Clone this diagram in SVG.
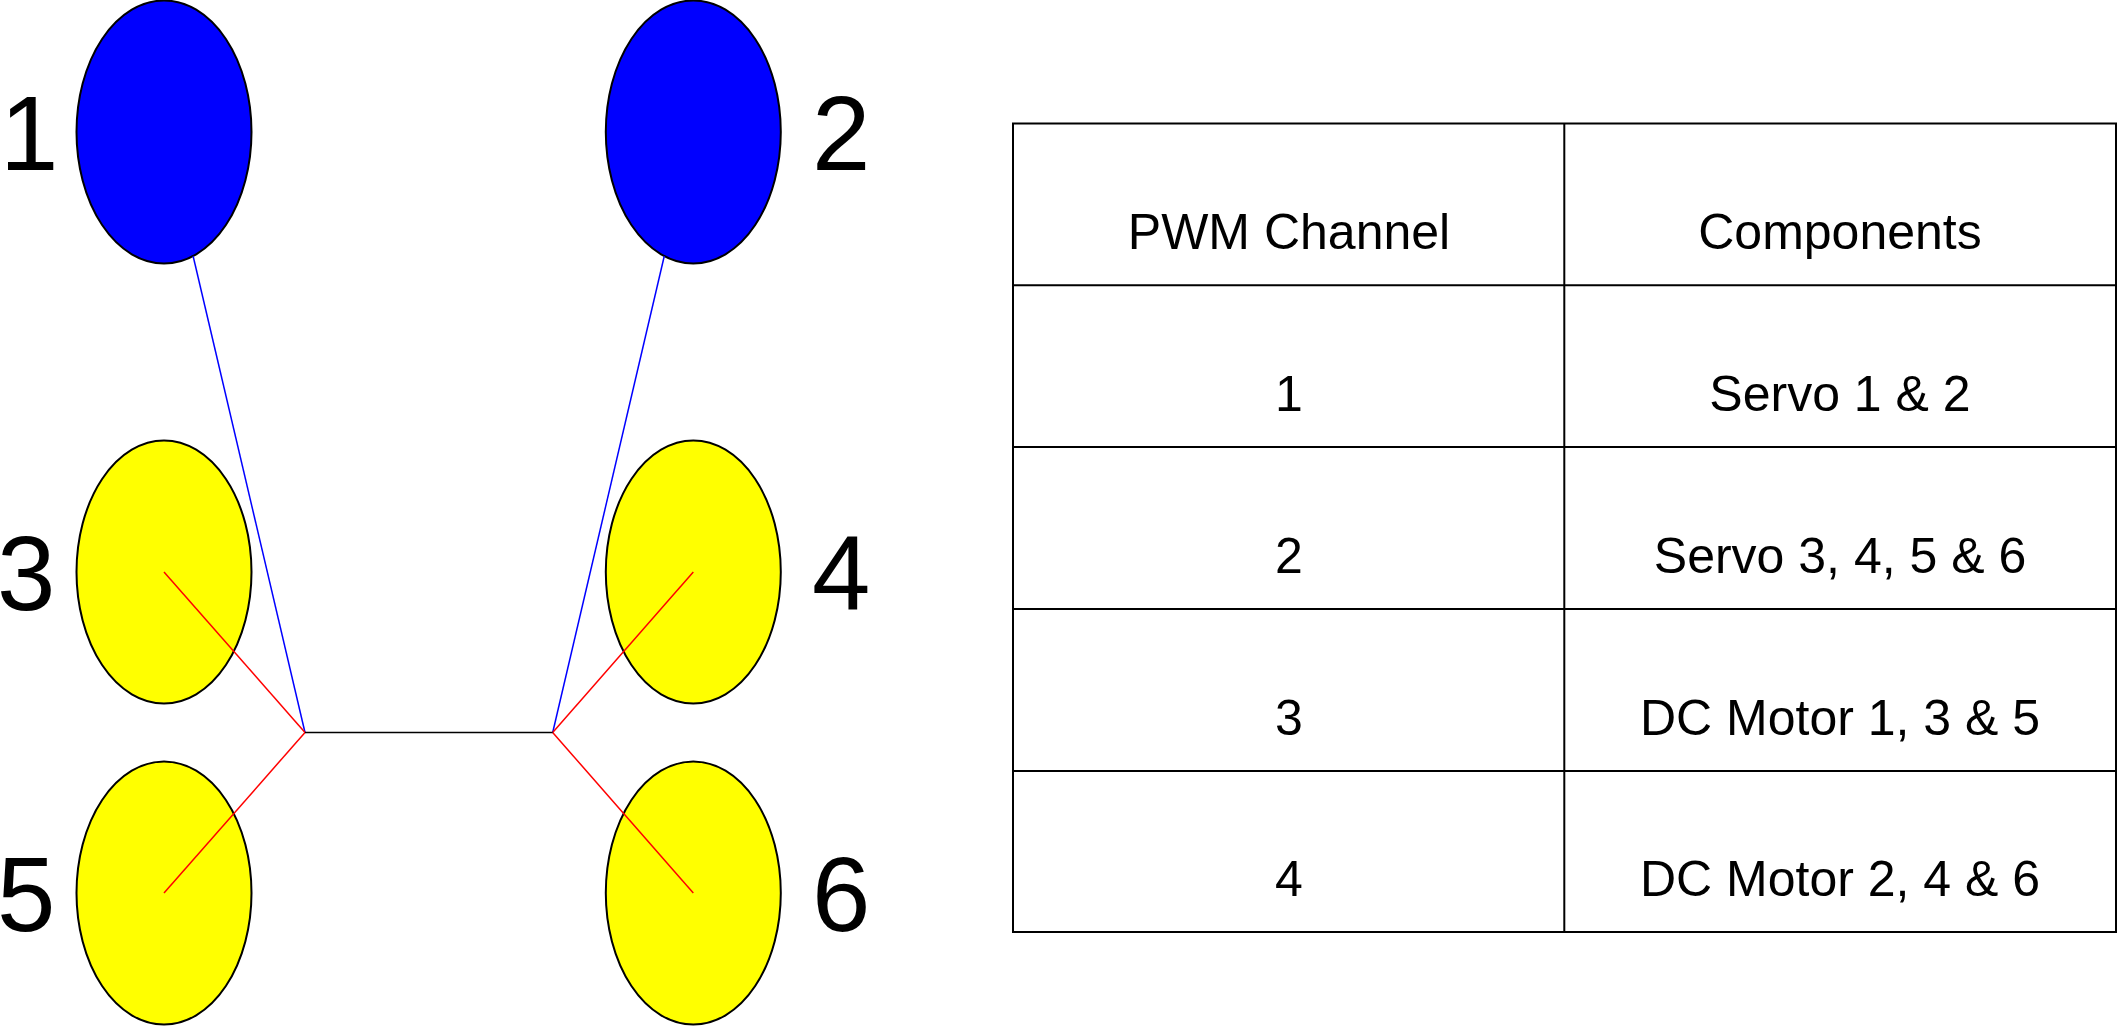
<svg xmlns="http://www.w3.org/2000/svg" width="2119" height="1027" viewBox="0 0 2119 1027">
<style>
.blue{fill:#0000ff;stroke:#000;stroke-width:2}
.yellow{fill:#ffff00;stroke:#000;stroke-width:2}
.lbl{font-family:"Liberation Sans",Arial,sans-serif;font-size:105px;fill:#000}
.cell{font-family:"Liberation Sans",Arial,sans-serif;font-size:50px;fill:#000;text-anchor:middle}
.grid{stroke:#000;stroke-width:2;fill:none}
</style>
<rect width="2119" height="1027" fill="#fff"/>
<g id="node1"><ellipse class="blue" cx="164" cy="132" rx="87.5" ry="131.5"/><text class="lbl" x="0" y="170">1</text></g>
<g id="node2"><ellipse class="blue" cx="693.3" cy="132" rx="87.5" ry="131.5"/><text class="lbl" x="812" y="170">2</text></g>
<g id="node3"><ellipse class="yellow" cx="164" cy="572" rx="87.5" ry="131.5"/><text class="lbl" x="-3" y="610">3</text></g>
<g id="node4"><ellipse class="yellow" cx="693.3" cy="572" rx="87.5" ry="131.5"/><text class="lbl" x="812" y="610">4</text></g>
<g id="node5"><ellipse class="yellow" cx="164" cy="893" rx="87.5" ry="131.5"/><text class="lbl" x="-3" y="931">5</text></g>
<g id="node6"><ellipse class="yellow" cx="693.3" cy="893" rx="87.5" ry="131.5"/><text class="lbl" x="812" y="931">6</text></g>
<g id="connectors" stroke-width="1.5" fill="none">
<line x1="193.1" y1="256" x2="305" y2="732.5" stroke="#0000ff"/>
<line x1="664.3" y1="256" x2="552.7" y2="732.5" stroke="#0000ff"/>
<line x1="164" y1="572" x2="305" y2="732.5" stroke="#ff0000"/>
<line x1="164" y1="893" x2="305" y2="732.5" stroke="#ff0000"/>
<line x1="693.3" y1="572" x2="552.7" y2="732.5" stroke="#ff0000"/>
<line x1="693.3" y1="893" x2="552.7" y2="732.5" stroke="#ff0000"/>
<line x1="305" y1="732.5" x2="552.7" y2="732.5" stroke="#000"/>
</g>
<g id="table">
<rect class="grid" x="1013" y="123.5" width="1103" height="808.5"/>
<line class="grid" x1="1564.3" y1="123.5" x2="1564.3" y2="932"/>
<line class="grid" x1="1013" y1="285.3" x2="2116" y2="285.3"/>
<line class="grid" x1="1013" y1="447" x2="2116" y2="447"/>
<line class="grid" x1="1013" y1="609" x2="2116" y2="609"/>
<line class="grid" x1="1013" y1="771" x2="2116" y2="771"/>
<text class="cell" x="1289" y="249">PWM Channel</text>
<text class="cell" x="1840" y="249">Components</text>
<text class="cell" x="1289" y="411">1</text>
<text class="cell" x="1840" y="411">Servo 1 &amp; 2</text>
<text class="cell" x="1289" y="573">2</text>
<text class="cell" x="1840" y="573">Servo 3, 4, 5 &amp; 6</text>
<text class="cell" x="1289" y="735">3</text>
<text class="cell" x="1840" y="735">DC Motor 1, 3 &amp; 5</text>
<text class="cell" x="1289" y="896">4</text>
<text class="cell" x="1840" y="896">DC Motor 2, 4 &amp; 6</text>
</g>
</svg>
